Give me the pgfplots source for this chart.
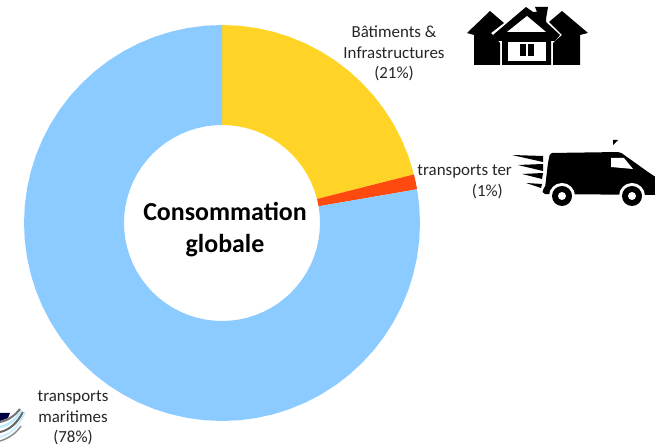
\documentclass[border=0pt]{standalone}
\usepackage{pgfplots}
\pgfplotsset{compat=1.18}
\usepackage{fontspec}
\setmainfont{Carlito}
\definecolor{cYellow}{HTML}{FFD426}
\definecolor{cOrange}{HTML}{FF4A0F}
\definecolor{cBlue}{HTML}{8CCBFF}
\begin{document}
\begin{tikzpicture}[x=1pt,y=1pt]
\path[use as bounding box] (0,0) rectangle (655,446);
\begin{axis}[at={(0,0)},anchor=south west,width=655pt,height=446pt,scale only axis,
  xmin=-222,xmax=433,ymin=-223,ymax=223,axis lines=none,clip=true]
% Bâtiments & Infrastructures 21%
\addplot[fill=cYellow,draw=none,data cs=polar] coordinates {
(90,198)(85,198)(80,198)(75,198)(70,198)(65,198)(60,198)(55,198)(50,198)(45,198)(40,198)(35,198)(30,198)(25,198)(20,198)(14.2,198)
(14.2,98)(20,98)(25,98)(30,98)(35,98)(40,98)(45,98)(50,98)(55,98)(60,98)(65,98)(70,98)(75,98)(80,98)(85,98)(90,98)} -- cycle;
% transports terrestres 1%
\addplot[fill=cOrange,draw=none,data cs=polar] coordinates {
(14.2,198)(12,198)(9.8,198)(9.8,98)(12,98)(14.2,98)} -- cycle;
% transports maritimes 78%
\addplot[fill=cBlue,draw=none,data cs=polar] coordinates {
(9.8,198)(5,198)(0,198)(-5,198)(-10,198)(-15,198)(-20,198)(-25,198)(-30,198)(-35,198)(-40,198)(-45,198)(-50,198)(-55,198)(-60,198)(-65,198)(-70,198)(-75,198)(-80,198)(-85,198)(-90,198)(-95,198)(-100,198)(-105,198)(-110,198)(-115,198)(-120,198)(-125,198)(-130,198)(-135,198)(-140,198)(-145,198)(-150,198)(-155,198)(-160,198)(-165,198)(-170,198)(-175,198)(-180,198)(-185,198)(-190,198)(-195,198)(-200,198)(-205,198)(-210,198)(-215,198)(-220,198)(-225,198)(-230,198)(-235,198)(-240,198)(-245,198)(-250,198)(-255,198)(-260,198)(-265,198)(-270,198)
(-270,98)(-265,98)(-260,98)(-255,98)(-250,98)(-245,98)(-240,98)(-235,98)(-230,98)(-225,98)(-220,98)(-215,98)(-210,98)(-205,98)(-200,98)(-195,98)(-190,98)(-185,98)(-180,98)(-175,98)(-170,98)(-165,98)(-160,98)(-155,98)(-150,98)(-145,98)(-140,98)(-135,98)(-130,98)(-125,98)(-120,98)(-115,98)(-110,98)(-105,98)(-100,98)(-95,98)(-90,98)(-85,98)(-80,98)(-75,98)(-70,98)(-65,98)(-60,98)(-55,98)(-50,98)(-45,98)(-40,98)(-35,98)(-30,98)(-25,98)(-20,98)(-15,98)(-10,98)(-5,98)(0,98)(5,98)(9.8,98)} -- cycle;
\end{axis}
\begin{scope}[shift={(0,446)},y=-1pt,x=1pt]
\def\lab{\fontsize{16.9}{20.5}\selectfont}
\node[align=center,font=\bfseries\fontsize{25.9}{32}\selectfont,inner sep=0] at (225,230) {Consommation\\globale};
\node[align=center,font=\lab,inner sep=0,text=black!85] at (394,53.5) {Bâtiments \&\\Infrastructures\\(21\%)};
\node[align=right,font=\lab,inner sep=0,anchor=east,text=black!85] at (512,182) {transports ter\\(1\%)\hspace{9pt}\hspace{8pt}};
\node[align=center,font=\lab,inner sep=0,text=black!85] at (73,418) {transports\\maritimes\\(78\%)};
% house icon
\fill (490,11)--(467,33)--(474,35)--(474,65)--(500,65)--(500,43)--(491,33)--(504,23)--cycle;
\fill (562,11)--(588,33)--(580,35)--(580,65)--(553,65)--(553,43)--(562,35)--(549,22)--cycle;
\fill (526,7)--(493,35)--(498,41)--(502,41)--(502,65)--(551,65)--(551,41)--(555,41)--(560,35)--(546,22)--(546,19)--(548,7)--(535,7)--(537,12)--(533,12)--cycle;
\fill[white] (527,16)--(507,32)--(546,32)--cycle;
\fill[white] (508,42) rectangle (546,61);
\fill (520,44) rectangle (526,56);
\fill (528,44) rectangle (534,56);
% van icon
\fill[rounded corners=2pt] (550,153)--(620,152)--(648,172)--(657,178)--(657,195)--(543,194)--(542,190)--(545,188)--(548,163)--cycle;
\fill[white] (611,158)--(624,158)--(633,169)--(611,167)--cycle;
\fill[white] (562,196) circle (13);
\fill[white] (632,196) circle (13);
\fill (562,196) circle (10);
\fill (632,196) circle (10);
\fill[white] (562,196) circle (4);
\fill[white] (632,196) circle (4);
\fill (512,155)--(543,156)--(543,162)--cycle;
\fill (518,165)--(543,164)--(543,171)--cycle;
\fill (522,174)--(543,173)--(542,179)--cycle;
\fill (526,183)--(542,184)--(541,188)--cycle;
\fill (613,145)--(613,140)--(618,140)--cycle;
% ship logo fragment
\fill[black!75!blue] (0,413)--(10,413)--(8,418)--(0,421)--cycle;
\draw[line width=2.5pt,cyan!25!white] (0,427)..controls (10,425) and (18,418)..(21,410);
\draw[line width=2pt,black!55] (0,422)..controls (10,420) and (16,414)..(20,409);
\draw[line width=2pt,black!60] (0,432)..controls (10,430) and (18,422)..(23,412);
\draw[line width=2pt,cyan!20!white] (0,437)..controls (10,435) and (20,425)..(25,412);
\draw[line width=1.5pt,black!45] (0,441)..controls (10,438) and (17,432)..(21,426);
\end{scope}
\end{tikzpicture}
\end{document}
